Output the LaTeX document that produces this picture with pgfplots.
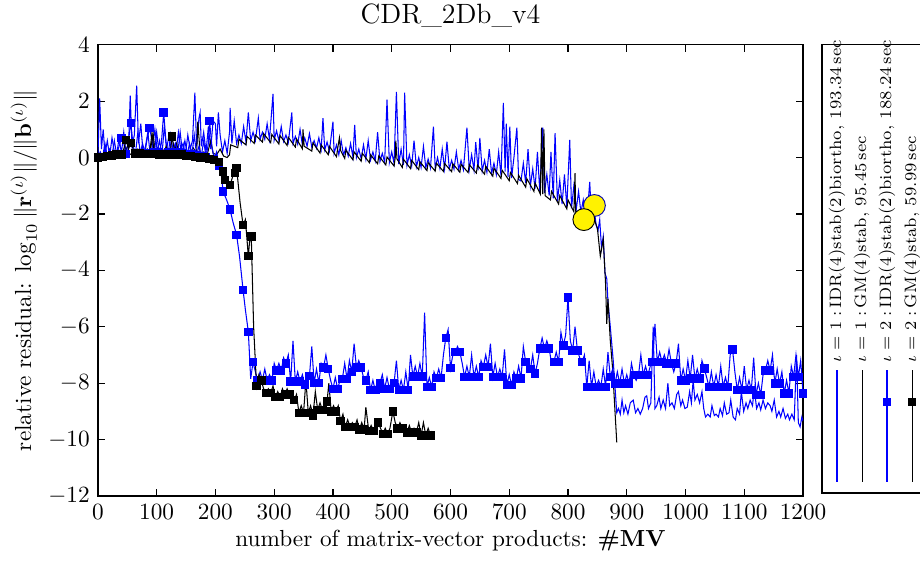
\documentclass[border=0pt]{standalone}
\usepackage{pgfplots}
\pgfplotsset{compat=1.18}

\begin{document}
\begin{tikzpicture}
\begin{axis}[
  scale only axis,
  width=303.2pt,height=194pt,
  xmin=0,xmax=1200,ymin=-12,ymax=4,
  xtick={0,100,...,1200},ytick={-12,-10,...,4},
  /pgf/number format/1000 sep={},
  tick align=inside,major tick length=3pt,
  every tick/.style={black,line width=0.5pt},
  axis line style={line width=0.6pt},
  tick label style={font=\fontsize{10}{12}\selectfont},
  label style={font=\fontsize{10}{12}\selectfont},
  title={CDR\_2Db\_v4},
  title style={font=\fontsize{12}{14}\selectfont,yshift=-2pt},
  xlabel={number of matrix-vector products: \textbf{\#MV}},
  ylabel={relative residual: $\log_{10}\|\mathbf{r}^{(\iota)}\|/\|\mathbf{b}^{(\iota)}\|$},
  xlabel style={yshift=2pt},
  ylabel style={yshift=-2pt},
]
% iota=1, IDR(4)stab(2)biortho
\addplot[blue,line width=0.45pt] coordinates {
(0,0.0) (3,2.1) (6,0.3) (9,1.0) (12,0.1) (16,0.6) (20,0.05) (24,0.7) (28,0.2) (32,0.1)
(36,0.7) (40,0.15) (44,0.9) (48,0.1) (52,0.3) (55,2.2) (58,0.4) (62,0.8) (66,2.55) (69,0.5)
(73,1.2) (77,0.1) (81,0.4) (85,0.9) (89,0.1) (93,0.4) (97,1.0) (101,0.2) (105,0.6) (109,0.1)
(113,1.1) (117,0.3) (121,0.8) (125,0.2) (129,0.5) (133,0.2) (137,0.9) (141,0.3) (145,0.5) (149,0.1)
(153,0.8) (157,0.3) (161,0.6) (165,2.3) (168,0.4) (172,1.4) (174,1.6) (176,0.4) (180,0.9) (184,0.2)
(188,1.1) (192,0.3) (196,1.3) (200,1.2) (202,0.4) (205,1.6) (208,0.8) (212,0.2) (216,0.6)
(220,0.15) (224,0.9) (225,1.76) (228,0.5) (232,1.3) (236,0.5) (240,0.8) (244,0.5) (248,1.1)
(252,0.55) (256,1.6) (260,0.6) (264,0.9) (268,0.6) (273,1.4) (276,0.65) (280,0.9) (284,0.65)
(288,1.2) (292,0.64) (298,2.26) (300,0.62) (304,0.95) (308,0.6) (312,1.1) (316,0.57) (320,0.8)
(324,0.53) (330,1.6) (332,0.5) (336,0.75) (340,0.47) (344,1.0) (348,0.44) (352,0.7) (356,0.4)
(360,0.85) (364,0.37) (368,0.6) (372,0.33) (376,0.7) (380,0.3) (383,1.4) (386,0.27) (390,0.55)
(394,0.23) (400,1.27) (402,0.15) (406,0.45) (410,0.1) (414,0.6) (418,0.08) (422,0.35) (426,0.05)
(430,0.5) (434,0.02) (437,1.16) (440,0.0) (444,0.3) (448,-0.04) (452,0.45) (456,-0.06) (460,0.6)
(464,-0.09) (468,0.2) (472,-0.12) (476,0.9) (480,-0.14) (484,0.15) (488,-0.16) (492,2.05) (496,-0.18)
(500,0.2) (504,-0.2) (508,2.33) (512,-0.23) (516,0.3) (520,-0.26) (522,2.3) (526,-0.28) (530,0.1)
(534,-0.3) (538,0.6) (542,-0.33) (546,0.0) (550,-0.35) (554,0.4) (558,-0.36) (562,-0.05) (566,-0.37)
(571,1.1) (574,-0.38) (578,0.0) (582,-0.39) (586,0.3) (590,-0.4) (594,0.56) (598,-0.4) (602,-0.1)
(606,-0.41) (610,0.2) (614,-0.42) (618,-0.1) (622,-0.43) (628,1.06) (632,-0.43) (636,0.1) (640,-0.44)
(643,0.55) (647,-0.45) (650,0.7) (654,-0.48) (658,-0.1) (662,-0.52) (666,0.3) (670,-0.56) (674,-0.2)
(678,-0.6) (682,0.2) (686,-0.64) (690,1.94) (693,-0.5) (695,1.2) (698,-0.68) (701,1.1) (704,-0.73)
(708,0.0) (713,1.06) (716,-0.78) (720,-0.83) (724,-0.2) (728,-0.9) (732,0.3) (736,-1.0) (740,-0.4)
(744,-1.1) (748,0.2) (752,-1.2) (757,1.06) (760,-1.26) (764,-0.6) (768,-1.35) (771,0.2) (775,-1.45)
(778,0.87) (782,-1.55) (786,-0.8) (790,-1.65) (794,-0.6) (798,-1.75) (803,0.63) (806,-1.8) (810,-1.0)
(814,-1.85) (818,-1.2) (822,-1.95) (826,-1.5) (830,-2.05) (834,-1.7) (837,-0.86) (840,-2.1) (844,-1.75)
(848,-2.4) (851,-2.6) (854,-2.2) (857,-3.2) (860,-2.8) (863,-4.1) (866,-4.3) (868,-5.1) (872,-6.0)
(877,-7.2) (883,-9.05) (886,-8.9) (889,-9.1) (892,-8.6) (895,-9.05) (898,-8.8) (902,-9.1) (906,-8.7)
(911,-8.6) (915,-9.05) (919,-8.9) (923,-9.1) (927,-8.9) (931,-8.5) (934,-8.45) (937,-8.9) (941,-8.7)
(945,-6.0) (948,-8.9) (951,-8.8) (955,-8.5) (958,-8.9) (962,-8.6) (966,-8.9) (970,-8.0) (973,-8.8)
(977,-8.7) (981,-8.9) (985,-8.4) (988,-8.3) (992,-8.8) (995,-8.6) (999,-8.9) (1003,-8.85) (1007,-8.3)
(1010,-8.7) (1013,-7.9) (1016,-8.6) (1020,-8.4) (1024,-8.7) (1028,-8.3) (1031,-8.9) (1034,-9.2)
(1038,-9.1) (1042,-9.2) (1045,-8.8) (1049,-9.15) (1052,-9.1) (1056,-9.2) (1059,-8.9) (1063,-9.15)
(1066,-8.7) (1070,-9.1) (1074,-9.05) (1077,-8.6) (1081,-9.2) (1085,-9.3) (1088,-8.9) (1092,-9.1)
(1095,-8.3) (1099,-9.0) (1103,-8.7) (1106,-8.9) (1110,-8.6) (1114,-8.8) (1117,-8.2) (1121,-8.9)
(1125,-8.7) (1128,-8.95) (1132,-8.6) (1136,-8.9) (1140,-8.7) (1144,-8.8) (1147,-9.0) (1151,-8.6)
(1155,-9.2) (1159,-9.0) (1162,-9.2) (1166,-8.9) (1170,-9.25) (1174,-9.1) (1177,-9.3) (1181,-9.1)
(1185,-9.3) (1189,-7.0) (1192,-9.4) (1195,-9.55) (1198,-9.2) (1200,-9.35)
};

% iota=1, GM(4)stab
\addplot[black,line width=0.45pt] coordinates {
(0,0.0) (6,0.05) (12,0.1) (18,0.02) (24,0.08) (30,0.12) (36,0.05) (42,0.1) (48,0.35) (52,0.08)
(58,0.15) (64,0.1) (70,0.2) (76,0.08) (82,0.12) (88,0.1) (94,0.85) (98,0.1) (104,0.15) (110,0.3)
(116,0.1) (122,0.2) (128,0.1) (134,0.5) (138,0.1) (144,0.15) (150,0.2) (156,0.1) (162,0.35) (168,0.15)
(170,1.27) (174,0.15) (180,0.2) (186,0.1) (192,0.6) (196,0.15) (202,0.1) (208,0.3) (214,0.05) (220,0.0)
(224,0.1) (226,0.45) (238,0.35) (240,0.65) (252,0.45) (254,0.75) (266,0.5) (268,0.8) (280,0.55) (282,0.85)
(294,0.53) (296,0.82) (308,0.48) (310,0.78) (322,0.43) (324,0.72) (336,0.37) (338,0.66) (348,0.31) (349,1.0)
(351,0.4) (364,0.23) (366,0.52) (378,0.16) (380,0.45) (392,0.1) (394,0.4) (406,0.03) (408,0.32) (411,0.7)
(413,0.25) (420,-0.03) (422,0.26) (434,-0.08) (436,0.2) (448,-0.13) (450,0.15) (462,-0.18) (464,0.1)
(476,-0.22) (478,0.06) (490,-0.26) (492,0.02) (504,-0.3) (506,0.0) (507,0.6) (509,-0.05) (518,-0.35)
(520,-0.06) (532,-0.39) (534,-0.1) (546,-0.43) (548,-0.15) (560,-0.46) (562,-0.18) (574,-0.48) (576,-0.2)
(588,-0.49) (590,-0.21) (602,-0.5) (604,-0.22) (616,-0.52) (618,-0.24) (630,-0.53) (632,-0.25) (644,-0.55)
(646,-0.27) (658,-0.59) (660,-0.31) (672,-0.66) (674,-0.38) (686,-0.74) (688,-0.45) (700,-0.82) (702,-0.53)
(714,-0.92) (716,-0.63) (728,-1.05) (730,-0.75) (742,-1.2) (744,-0.9) (753,-1.3) (755,1.06) (757,-1.3)
(759,1.0) (761,-1.35) (770,-1.5) (772,-1.2) (784,-1.65) (786,-1.35) (798,-1.82) (800,-1.5) (810,-1.92)
(812,-0.55) (813,-1.9) (826,-2.1) (828,-1.8) (840,-2.3) (842,-2.05) (850,-2.5)
(855,-3.5) (860,-2.9) (864,-4.5) (866,-5.9) (868,-5.0) (872,-6.5) (876,-7.5) (880,-9.0) (883,-10.1)
};

% iota=2, IDR(4)stab(2)biortho: marked outer steps alternate with unmarked inner values
\addplot[blue,line width=0.45pt,mark=square*,mark size=1.6pt,mark repeat=2,mark phase=1] coordinates {
(0,0.0) (4,0.2) (8,0.02) (12,0.5) (16,0.05) (20,0.3) (24,0.07) (28,0.6) (32,0.1) (36,0.4)
(40,0.7) (44,0.5) (48,0.12) (52,0.6) (56,1.23) (60,0.4) (64,0.15) (68,0.9) (72,0.15) (76,0.5)
(80,0.15) (84,0.7) (88,1.05) (92,0.6) (96,0.18) (100,0.9) (104,0.18) (108,0.5) (112,1.6) (116,0.5)
(120,0.2) (124,0.8) (128,0.2) (132,0.5) (136,0.18) (140,0.9) (144,0.15) (148,0.6) (152,0.12) (156,0.5)
(160,0.1) (164,0.8) (168,0.08) (172,0.4) (176,0.05) (180,0.6) (184,0.02) (188,0.5) (190,1.3) (194,0.4)
(198,-0.05) (202,0.2) (206,-0.3) (210,-0.6) (213,-1.2) (219,-1.5) (225,-1.85) (230,-2.3) (236,-2.74) (241,-3.5)
(247,-4.69) (251,-5.4) (256,-6.18) (260,-7.85) (264,-7.25) (268,-7.6) (272,-7.9) (276,-7.6) (280,-7.9) (284,-7.5)
(288,-7.9) (292,-7.7) (296,-7.9) (300,-7.3) (304,-7.55) (308,-7.3) (312,-7.55) (316,-7.1) (320,-7.3) (324,-7.0)
(328,-7.95) (332,-6.5) (336,-7.95) (340,-7.6) (344,-7.95) (348,-7.7) (352,-8.05) (356,-7.7) (360,-7.75) (364,-6.7)
(368,-8.0) (372,-7.5) (376,-8.0) (380,-7.3) (384,-7.45) (388,-7.0) (392,-7.5) (396,-7.9) (400,-8.2) (404,-7.8)
(408,-8.2) (412,-7.9) (416,-7.85) (420,-7.3) (424,-7.85) (428,-7.2) (432,-7.6) (436,-6.6) (440,-7.45) (444,-7.2)
(448,-7.45) (452,-7.8) (456,-7.9) (460,-7.6) (464,-8.25) (468,-7.9) (472,-8.25) (476,-7.9) (480,-8.0) (484,-7.7)
(488,-8.2) (492,-7.8) (496,-8.2) (500,-7.9) (504,-8.0) (508,-7.2) (512,-8.24) (516,-7.9) (520,-8.24) (524,-7.6)
(528,-8.24) (532,-7.0) (536,-7.77) (540,-7.4) (544,-7.77) (548,-7.3) (552,-7.77) (556,-5.5) (560,-8.13) (564,-7.8)
(568,-8.13) (572,-7.6) (576,-7.82) (580,-7.5) (584,-7.82) (588,-7.0) (592,-6.4) (596,-6.1) (600,-7.47) (604,-7.0)
(608,-6.9) (612,-6.7) (616,-6.9) (620,-7.3) (624,-7.78) (628,-7.4) (632,-7.78) (636,-7.0) (640,-7.78) (644,-7.4)
(648,-7.78) (652,-7.2) (656,-7.42) (660,-7.0) (664,-7.42) (668,-6.6) (672,-7.78) (676,-7.3) (680,-7.78) (684,-7.5)
(688,-7.78) (692,-6.8) (696,-8.07) (700,-7.7) (704,-8.07) (708,-7.6) (712,-7.83) (716,-7.4) (720,-7.83) (724,-6.7)
(728,-7.25) (732,-7.6) (736,-7.5) (740,-7.0) (744,-7.66) (748,-7.3) (752,-6.78) (756,-6.4) (760,-6.78) (764,-6.5)
(768,-6.78) (772,-7.3) (776,-7.25) (780,-6.9) (784,-7.25) (788,-6.2) (792,-6.66) (796,-6.3) (800,-4.97) (804,-6.5)
(808,-6.84) (812,-6.0) (816,-6.84) (820,-7.1) (824,-7.25) (828,-7.0) (832,-8.13) (836,-7.2) (840,-8.13) (844,-7.6)
(848,-8.13) (852,-7.9) (856,-8.13) (860,-7.5) (864,-8.13) (868,-6.9) (872,-7.78) (876,-7.5) (880,-8.02) (884,-7.6)
(888,-8.02) (892,-7.5) (896,-8.02) (900,-7.7) (904,-8.02) (908,-7.3) (912,-7.72) (916,-7.9) (920,-7.72) (924,-7.0)
(928,-7.72) (932,-7.4) (936,-7.72) (940,-7.4) (944,-7.25) (948,-5.9) (952,-7.25) (956,-6.9) (960,-7.25) (964,-7.0)
(968,-7.3) (972,-6.8) (976,-7.3) (980,-7.6) (984,-7.3) (988,-6.6) (992,-7.9) (996,-7.5) (1000,-7.9) (1004,-7.2)
(1008,-7.84) (1012,-7.0) (1016,-7.84) (1020,-7.5) (1024,-7.84) (1028,-7.2) (1032,-7.48) (1036,-7.8) (1040,-8.13) (1044,-7.6)
(1048,-8.13) (1052,-7.7) (1056,-8.13) (1060,-7.4) (1064,-8.13) (1068,-7.8) (1072,-8.13) (1076,-7.0) (1080,-6.8) (1084,-7.6)
(1088,-8.24) (1092,-7.8) (1096,-8.24) (1100,-7.4) (1104,-8.24) (1108,-7.9) (1112,-8.24) (1116,-7.1) (1120,-8.42) (1124,-8.0)
(1128,-8.42) (1132,-7.7) (1136,-7.55) (1140,-7.2) (1144,-7.55) (1148,-7.0) (1152,-8.02) (1156,-7.5) (1160,-8.02) (1164,-7.6)
(1168,-8.36) (1172,-7.9) (1176,-8.36) (1180,-7.4) (1184,-7.78) (1188,-7.0) (1192,-7.78) (1196,-7.2) (1200,-8.36)
};

% iota=2, GM(4)stab
\addplot[black,line width=0.45pt,mark=square*,mark size=1.6pt,mark repeat=2,mark phase=1] coordinates {
(0,0.0) (4,0.1) (8,0.02) (12,0.1) (16,0.05) (20,0.15) (24,0.07) (28,0.2) (32,0.1) (36,0.25)
(40,0.1) (44,0.3) (48,0.63) (52,0.3) (56,0.52) (60,0.3) (64,0.15) (68,0.3) (72,0.15) (76,0.25)
(80,0.12) (84,0.3) (88,0.12) (92,0.87) (96,0.12) (100,0.3) (104,0.1) (108,0.25) (112,0.1) (116,0.4)
(120,0.1) (124,0.3) (126,0.74) (130,0.3) (134,0.1) (138,0.2) (142,0.1) (146,0.2) (150,0.05) (154,0.15)
(158,0.05) (162,0.15) (166,0.02) (170,0.1) (174,0.0) (178,0.1) (182,0.0) (186,0.05) (190,-0.05) (194,0.0)
(198,-0.08) (202,-0.05) (206,-0.15) (210,-0.2) (213,-0.5) (215,-0.6) (216,-0.79) (220,-0.9) (225,-0.97) (229,-0.7)
(233,-0.55) (234,-0.45) (236,-0.37) (242,-1.6) (247,-2.39) (251,-2.2) (256,-3.5) (258,-3.0) (261,-2.8) (265,-6.0)
(270,-8.1) (274,-7.7) (278,-7.9) (282,-8.2) (286,-8.35) (290,-8.2) (294,-8.35) (298,-8.1) (302,-8.5) (306,-8.3)
(310,-8.5) (314,-8.2) (318,-8.4) (322,-8.2) (326,-8.4) (330,-8.3) (334,-8.6) (338,-8.4) (342,-9.05) (346,-8.8)
(350,-9.05) (354,-7.9) (358,-9.05) (362,-8.8) (366,-9.15) (370,-8.3) (374,-8.95) (378,-8.7) (382,-8.95) (386,-8.8)
(390,-8.65) (393,-8.0) (397,-9.0) (401,-8.8) (405,-9.0) (409,-8.8) (413,-9.35) (417,-9.1) (421,-9.55) (425,-9.3)
(429,-9.55) (433,-9.4) (437,-9.55) (441,-9.3) (445,-9.65) (449,-9.4) (453,-9.65) (456,-8.85) (461,-9.7) (465,-9.5)
(469,-9.7) (473,-9.5) (477,-9.4) (481,-9.6) (485,-9.8) (489,-9.6) (493,-9.8) (497,-9.6) (502,-9.0) (506,-9.4)
(510,-9.6) (514,-9.4) (518,-9.6) (522,-9.5) (526,-9.75) (530,-9.5) (534,-9.75) (538,-9.6) (542,-9.75) (546,-9.4)
(550,-9.85) (554,-9.4) (558,-9.85) (562,-9.6) (566,-9.85) (569,-9.7)
};

% stagnation points
\addplot[only marks,mark=*,mark size=4.7pt,mark options={fill=yellow,draw=blue!70!black}] coordinates {(845,-1.7)};
\addplot[only marks,mark=*,mark size=4.7pt,mark options={fill=yellow,draw=black}] coordinates {(827,-2.2)};
\end{axis}

% legend, rotated as in the original figure
\begin{scope}[shift={(current axis.south east)},font=\fontsize{7.1}{8.5}\selectfont]
  \draw[line width=0.6pt] (8.2pt,1.3pt) rectangle (62pt,194pt);
  \draw[blue,line width=0.45pt] (14.6pt,6pt) -- (14.6pt,54.2pt);
  \node[rotate=90,anchor=west,inner sep=0pt] at (14.6pt,57.2pt) {$\iota=1:$\,IDR(4)stab(2)biortho, 193.34\,sec};
  \draw[black,line width=0.45pt] (25.4pt,6pt) -- (25.4pt,54.2pt);
  \node[rotate=90,anchor=west,inner sep=0pt] at (25.4pt,57.2pt) {$\iota=1:$\,GM(4)stab, 95.45\,sec};
  \draw[blue,line width=0.45pt] (36.1pt,6pt) -- (36.1pt,54.2pt);
  \fill[blue] (34.5pt,38.8pt) rectangle (37.7pt,42pt);
  \node[rotate=90,anchor=west,inner sep=0pt] at (36.1pt,57.2pt) {$\iota=2:$\,IDR(4)stab(2)biortho, 188.24\,sec};
  \draw[black,line width=0.45pt] (46.9pt,6pt) -- (46.9pt,54.2pt);
  \fill[black] (45.3pt,38.8pt) rectangle (48.5pt,42pt);
  \node[rotate=90,anchor=west,inner sep=0pt] at (46.9pt,57.2pt) {$\iota=2:$\,GM(4)stab, 59.99\,sec};
\end{scope}

\pgfresetboundingbox
\path[use as bounding box] ([xshift=-42.1pt,yshift=-27.95pt]current axis.south west) rectangle ++(395.6pt,241.2pt);
\end{tikzpicture}
\end{document}
